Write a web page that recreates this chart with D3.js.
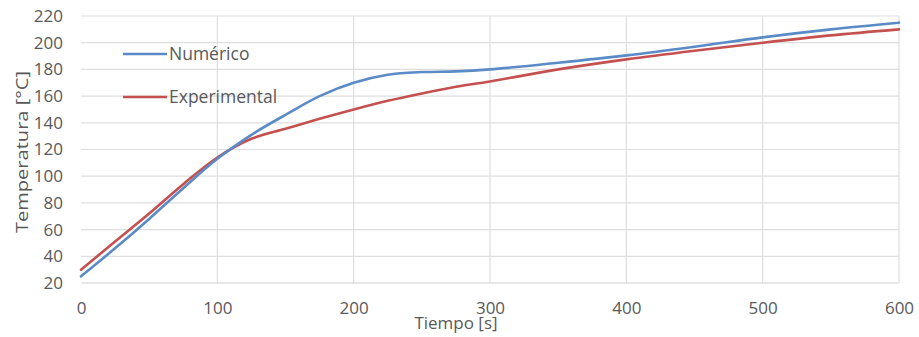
<!DOCTYPE html>
<html>
<head>
<meta charset="utf-8">
<script src="https://cdn.jsdelivr.net/npm/d3@7"></script>
<style>
  html, body { margin: 0; padding: 0; background: #fff; }
  svg { display: block; }
  text { font-family: "Open Sans", "Noto Sans", sans-serif; fill: #595959; }
</style>
</head>
<body>
<svg id="chart" width="919" height="337"></svg>
<script>
// Time samples [s]
const tiempo = [0, 25, 50, 75, 100, 125, 150, 175, 200, 225, 250, 275, 300, 350, 400, 450, 500, 550, 600];
// Simulated temperature [°C]
const numerico = [25, 46, 68, 91, 113, 131, 146, 160, 170, 176, 178, 178.5, 180, 185, 190.5, 197, 204, 210, 215];
// Measured temperature [°C]
const experimental = [30, 51, 72, 94, 114, 128, 135.5, 143, 150, 156.5, 162, 167, 171, 180, 187.5, 194, 200, 205.5, 210];

const xTicks = [0, 100, 200, 300, 400, 500, 600];
const yTicks = [20, 40, 60, 80, 100, 120, 140, 160, 180, 200, 220];

const seriesNames = ["Numérico", "Experimental"];
const seriesColors = ["#5b8bc6", "#c4504f"];

const svg = d3.select("#chart");
const plot = { left: 81, right: 899, top: 16, bottom: 283 };

const x = d3.scaleLinear().domain([0, 600]).range([plot.left, plot.right]);
const y = d3.scaleLinear().domain([20, 220]).range([plot.bottom, plot.top]);

// Horizontal gridlines
svg.append("g")
  .selectAll("line")
  .data(yTicks.slice(1))
  .join("line")
  .attr("x1", plot.left).attr("x2", plot.right)
  .attr("y1", d => y(d)).attr("y2", d => y(d))
  .attr("stroke", "#dedede").attr("stroke-width", 1.2);

// Vertical gridlines
svg.append("g")
  .selectAll("line")
  .data(xTicks.slice(1))
  .join("line")
  .attr("x1", d => x(d)).attr("x2", d => x(d))
  .attr("y1", plot.top).attr("y2", plot.bottom)
  .attr("stroke", "#dedede").attr("stroke-width", 1.2);

// Bottom axis line
svg.append("line")
  .attr("x1", plot.left).attr("x2", plot.right)
  .attr("y1", plot.bottom).attr("y2", plot.bottom)
  .attr("stroke", "#cfcfcf").attr("stroke-width", 1.2);

// Y axis labels
const yAxis = d3.axisLeft(y).tickValues(yTicks).tickSize(0).tickPadding(0);
const gy = svg.append("g").attr("transform", `translate(${plot.left - 18},0)`).call(yAxis);
gy.select(".domain").remove();
gy.selectAll("text").attr("font-size", 17).style("fill", "#595959")
  .attr("font-family", "Open Sans");

// X axis labels
const xAxis = d3.axisBottom(x).tickValues(xTicks).tickSize(0).tickPadding(0);
const gx = svg.append("g").attr("transform", `translate(0,${plot.bottom + 19})`).call(xAxis);
gx.select(".domain").remove();
gx.selectAll("text").attr("font-size", 17).style("fill", "#595959")
  .attr("font-family", "Open Sans");

// Axis titles
svg.append("text")
  .attr("x", 456).attr("y", 329)
  .attr("text-anchor", "middle")
  .attr("font-size", 17)
  .text("Tiempo [s]");

svg.append("text")
  .attr("transform", "translate(28,152) rotate(-90)")
  .attr("text-anchor", "middle")
  .attr("font-size", 17)
  .attr("textLength", 162)
  .attr("lengthAdjust", "spacingAndGlyphs")
  .text("Temperatura [°C]");

// Series lines
const line = d3.line()
  .x(d => x(d[0]))
  .y(d => y(d[1]))
  .curve(d3.curveCatmullRom.alpha(0.5));

const series = [
  tiempo.map((t, i) => [t, experimental[i]]),
  tiempo.map((t, i) => [t, numerico[i]])
];
const order = [1, 0];
series.forEach((pts, k) => {
  svg.append("path")
    .datum(pts)
    .attr("fill", "none")
    .attr("stroke", seriesColors[order[k]])
    .attr("stroke-width", 2.6)
    .attr("stroke-linejoin", "round")
    .attr("stroke-linecap", "round")
    .attr("d", line);
});

// Legend
const legend = svg.append("g");
seriesNames.forEach((name, i) => {
  const ly = 54 + i * 43;
  legend.append("line")
    .attr("x1", 123).attr("x2", 167)
    .attr("y1", ly).attr("y2", ly)
    .attr("stroke", seriesColors[i]).attr("stroke-width", 2.6);
  legend.append("text")
    .attr("x", 169).attr("y", ly + 6)
    .attr("font-size", 17.5)
    .text(name);
});
</script>
</body>
</html>
